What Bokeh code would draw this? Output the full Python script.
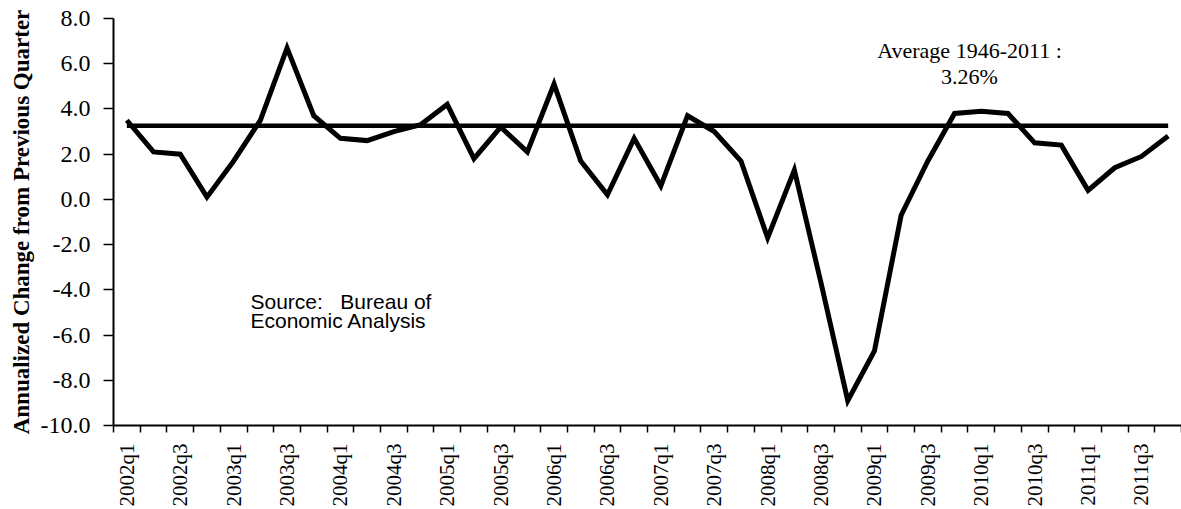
import math
from bokeh.plotting import figure
from bokeh.models import FixedTicker, Label, Range1d, PrintfTickFormatter
from bokeh.embed import file_html
from bokeh.resources import INLINE

# ---- data ----
quarters = [
    "2002q1", "2002q2", "2002q3", "2002q4",
    "2003q1", "2003q2", "2003q3", "2003q4",
    "2004q1", "2004q2", "2004q3", "2004q4",
    "2005q1", "2005q2", "2005q3", "2005q4",
    "2006q1", "2006q2", "2006q3", "2006q4",
    "2007q1", "2007q2", "2007q3", "2007q4",
    "2008q1", "2008q2", "2008q3", "2008q4",
    "2009q1", "2009q2", "2009q3", "2009q4",
    "2010q1", "2010q2", "2010q3", "2010q4",
    "2011q1", "2011q2", "2011q3", "2011q4",
]
gdp_growth = [
    3.5, 2.1, 2.0, 0.1,
    1.7, 3.5, 6.7, 3.7,
    2.7, 2.6, 3.0, 3.3,
    4.2, 1.8, 3.2, 2.1,
    5.1, 1.7, 0.2, 2.7,
    0.6, 3.7, 3.0, 1.7,
    -1.7, 1.3, -3.7, -8.9,
    -6.7, -0.7, 1.7, 3.8,
    3.9, 3.8, 2.5, 2.4,
    0.4, 1.4, 1.9, 2.8,
]
average_value = 3.26
average_text = ["Average 1946-2011 :", "3.26%"]
source_text = ["Source:  Bureau of", "Economic Analysis"]
y_ticks = [-10, -8, -6, -4, -2, 0, 2, 4, 6, 8]
label_every = 2

idx = list(range(len(quarters)))

p = figure(
    width=1181, height=509,
    output_backend="svg", toolbar_location=None,
    x_range=Range1d(-0.5, 39.5), y_range=Range1d(-10, 8),
    min_border_top=18, min_border_right=0, min_border_left=113, min_border_bottom=0,
)
p.outline_line_color = None
p.grid.visible = False
p.background_fill_color = "white"
p.border_fill_color = "white"

# x axis
xa = p.xaxis[0]
xa.ticker = FixedTicker(ticks=idx[::label_every], minor_ticks=[i - 0.5 for i in range(len(quarters) + 1)])
xa.major_label_overrides = {i: quarters[i] for i in idx[::label_every]}
xa.major_tick_line_color = None
xa.major_tick_out = 0
xa.major_tick_in = 0
xa.minor_tick_out = 7
xa.minor_tick_in = 0
xa.minor_tick_line_color = "black"
xa.minor_tick_line_width = 1.5
xa.axis_line_color = "black"
xa.axis_line_width = 2
xa.major_label_orientation = math.pi / 2
xa.major_label_standoff = 11
xa.major_label_text_font = "Liberation Serif"
xa.major_label_text_font_size = "21px"
xa.major_label_text_color = "black"

# y axis
ya = p.yaxis[0]
ya.ticker = FixedTicker(ticks=y_ticks)
ya.formatter = PrintfTickFormatter(format="%.1f")
ya.minor_tick_line_color = None
ya.major_tick_out = 10
ya.major_tick_in = 0
ya.major_tick_line_width = 1.5
ya.major_tick_line_color = "black"
ya.axis_line_color = "black"
ya.axis_line_width = 2
ya.major_label_standoff = 13
ya.major_label_text_font = "Liberation Serif"
ya.major_label_text_font_size = "24px"
ya.major_label_text_color = "black"
ya.axis_label = "Annualized Change from Previous Quarter"
ya.axis_label_text_font = "Liberation Serif"
ya.axis_label_text_font_style = "bold"
ya.axis_label_text_font_size = "23px"
ya.axis_label_text_color = "black"
ya.axis_label_standoff = 4

# series
p.line(idx, gdp_growth, line_color="black", line_width=5, line_join="miter")
p.line([idx[0], idx[-1]], [average_value, average_value], line_color="black", line_width=4.5)

# annotations
p.add_layout(Label(x=31.56, y=6.60, text=average_text[0], text_align="center",
                   text_baseline="alphabetic", text_font="Liberation Serif",
                   text_font_size="22px", text_color="black"))
p.add_layout(Label(x=31.56, y=5.45, text=average_text[1], text_align="center",
                   text_baseline="alphabetic", text_font="Liberation Serif",
                   text_font_size="22px", text_color="black"))
p.add_layout(Label(x=4.63, y=-4.52, text=source_text[0].replace("  ", "\u00a0\u00a0 "),
                   text_align="left", text_baseline="alphabetic",
                   text_font="Liberation Sans", text_font_size="21px", text_color="black"))
p.add_layout(Label(x=4.63, y=-5.37, text=source_text[1], text_align="left",
                   text_baseline="alphabetic", text_font="Liberation Sans",
                   text_font_size="21px", text_color="black"))

open("out.html", "w").write(file_html(p, INLINE))
